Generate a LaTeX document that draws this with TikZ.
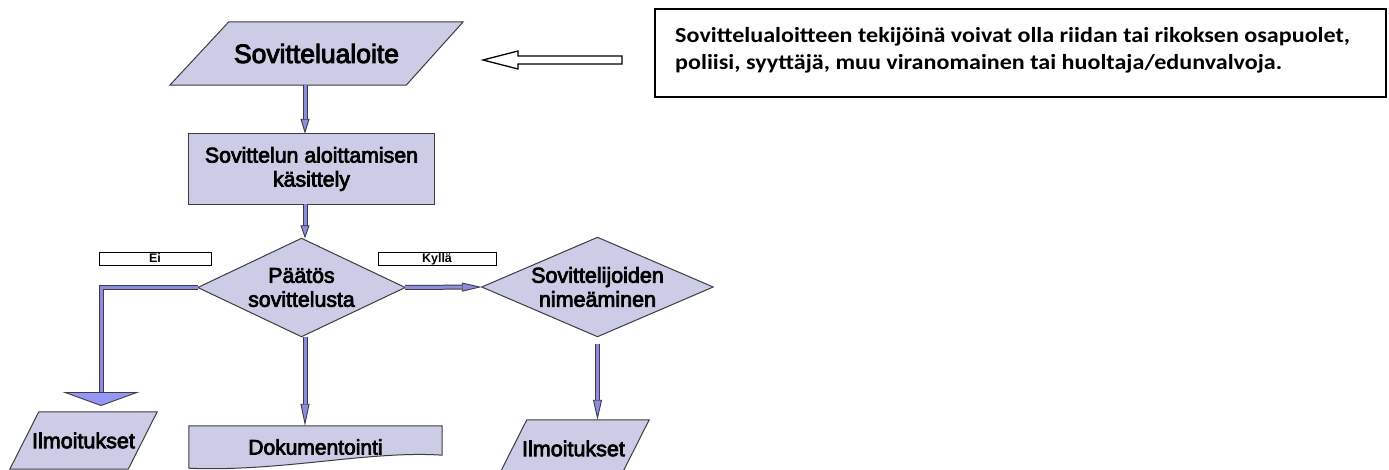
\documentclass[tikz,border=0pt]{standalone}
\usepackage{fontspec}
\setmainfont{Liberation Sans}
\newfontfamily\diagf[FakeBold=3.5]{Liberation Sans}
\newfontfamily\labf{Liberation Sans}
\newfontfamily\notef[FakeStretch=1.12]{Carlito}
\usetikzlibrary{arrows.meta,calc,backgrounds}
\definecolor{shapec}{RGB}{204,204,230}
\definecolor{edgec}{RGB}{60,60,66}
\definecolor{arrowc}{RGB}{140,140,225}
\definecolor{bigc}{RGB}{150,150,245}
\newcommand\mydiagfont[1]{\diagf\fontsize{#1}{24}\selectfont}
\tikzset{
  txt/.style={inner sep=0pt, align=center, text=black},
  shapefill/.style={fill=shapec, draw=edgec, line width=1pt, line join=miter},
  shaft/.style={draw=edgec, line width=5pt,
     postaction={draw=arrowc, line width=3pt, -, shorten >=#1}},
  tipA/.style={-{Triangle[length=#1, width=9pt, line width=0.9pt, fill=arrowc]}},
  lab/.style={draw=black, line width=0.8pt, fill=white, inner sep=0pt,
     minimum height=13pt, text height=9pt, text depth=1.5pt,
     font=\labf\bfseries\fontsize{12.5}{14}\selectfont},
}
\begin{document}
\begin{tikzpicture}[x=1pt,y=-1pt]
\useasboundingbox (0,0) rectangle (1389,470);

% nodes (text)
\node[txt, minimum width=293pt, minimum height=63pt, font=\mydiagfont{26.5}] (p1) at (316.5,53.5) {Sovittelualoite};
\node[txt, minimum width=245pt, minimum height=70pt, font=\mydiagfont{21.3}] (r1) at (311.5,169) {Sovittelun aloittamisen\\käsittely};
\node[txt, minimum width=207pt, minimum height=98pt, font=\mydiagfont{21.3}] (d1) at (301.5,287.5) {Päätös\\sovittelusta};
\node[txt, minimum width=231pt, minimum height=99pt, font=\mydiagfont{21.5}] (d2) at (597.5,287) {Sovittelijoiden\\nimeäminen};
\node[txt, minimum width=253pt, minimum height=42pt, font=\mydiagfont{21}] (r2) at (315.5,447) {Dokumentointi};
\node[txt, minimum width=147pt, minimum height=57pt, font=\mydiagfont{21.5}] (p2) at (83.5,440.5) {Ilmoitukset};
\node[txt, minimum width=151pt, minimum height=57pt, font=\mydiagfont{21.5}] (p3) at (573.5,448.5) {Ilmoitukset};

\node[lab, minimum width=112pt] (ei) at (155,258.5) {Ei};
\node[lab, minimum width=118pt] (kylla) at (437,258.5) {Kyllä};

\node[draw=black, line width=2.2pt, minimum width=731pt, minimum height=88pt, inner sep=0pt] (note) at (1020.5,53) {};
\node[anchor=west, align=left, inner sep=0pt, font=\notef\bfseries\fontsize{21.5}{27}\selectfont] (notetext) at (675,50.5)
  {Sovittelualoitteen tekijöinä voivat olla riidan tai rikoksen osapuolet,\\poliisi, syyttäjä, muu viranomainen tai huoltaja/edunvalvoja.};

% shapes
\begin{scope}[on background layer]
\fill[white] (0,0) rectangle (1389,470);
\draw[shapefill] (p1.south west) -- ($(p1.north west)+(59,0)$) -- (p1.north east) -- ($(p1.south east)+(-57,0)$) -- cycle;
\draw[shapefill] (r1.south west) rectangle (r1.north east);
\draw[shapefill] (d1.west) -- (d1.north) -- (d1.east) -- (d1.south) -- cycle;
\draw[shapefill] (d2.west) -- (d2.north) -- (d2.east) -- (d2.south) -- cycle;
\draw[shapefill] (r2.north west) -- (r2.north east) -- ($(r2.south east)+(0,-13)$)
   .. controls ($(r2.south east)+(-72,-18)$) and ($(r2.south west)+(91,4)$) .. (r2.south west) -- cycle;
\draw[shapefill] (p2.south west) -- ($(p2.north west)+(29,0)$) -- (p2.north east) -- ($(p2.south east)+(-29,0)$) -- cycle;
\draw[shapefill] (p3.south west) -- ($(p3.north west)+(29,0)$) -- (p3.north east) -- ($(p3.south east)+(-29,0)$) -- cycle;
\end{scope}

% connectors
\coordinate (col) at (305,0);
\coordinate (eiTip) at (101,406);
\coordinate (d2s) at ($(d2.south)+(0,7)$);
\draw[shaft=15pt, tipA=15pt] (p1.south -| col) -- (r1.north -| col);
\draw[shaft=13pt, tipA=13pt] (r1.south -| col) -- (d1.north -| col);
\draw[shaft=22pt, tipA=22pt] (d1.south -| col) -- (r2.north -| col);
\draw[shaft=20pt, tipA=20pt] (d1.east) -- (d2.west);
\draw[shaft=20pt, tipA=20pt] (d2s) -- (p3.north -| d2s);
\draw[shaft=14pt, -{Triangle[length=14pt, width=77pt, line width=0.9pt, fill=bigc]}] (d1.west) -| (eiTip);

% hollow arrow from note to Sovittelualoite
\coordinate (hTail) at (622,60);
\coordinate (hTip) at (483,60);
\draw[black, line width=1.3pt, fill=white, line join=miter] (hTip) -- ($(hTip)+(35,-9)$) -- ($(hTip)+(35,-4)$) -- ($(hTail)+(0,-4)$)
  -- ($(hTail)+(0,4)$) -- ($(hTip)+(35,4)$) -- ($(hTip)+(35,9)$) -- cycle;
\end{tikzpicture}
\end{document}
